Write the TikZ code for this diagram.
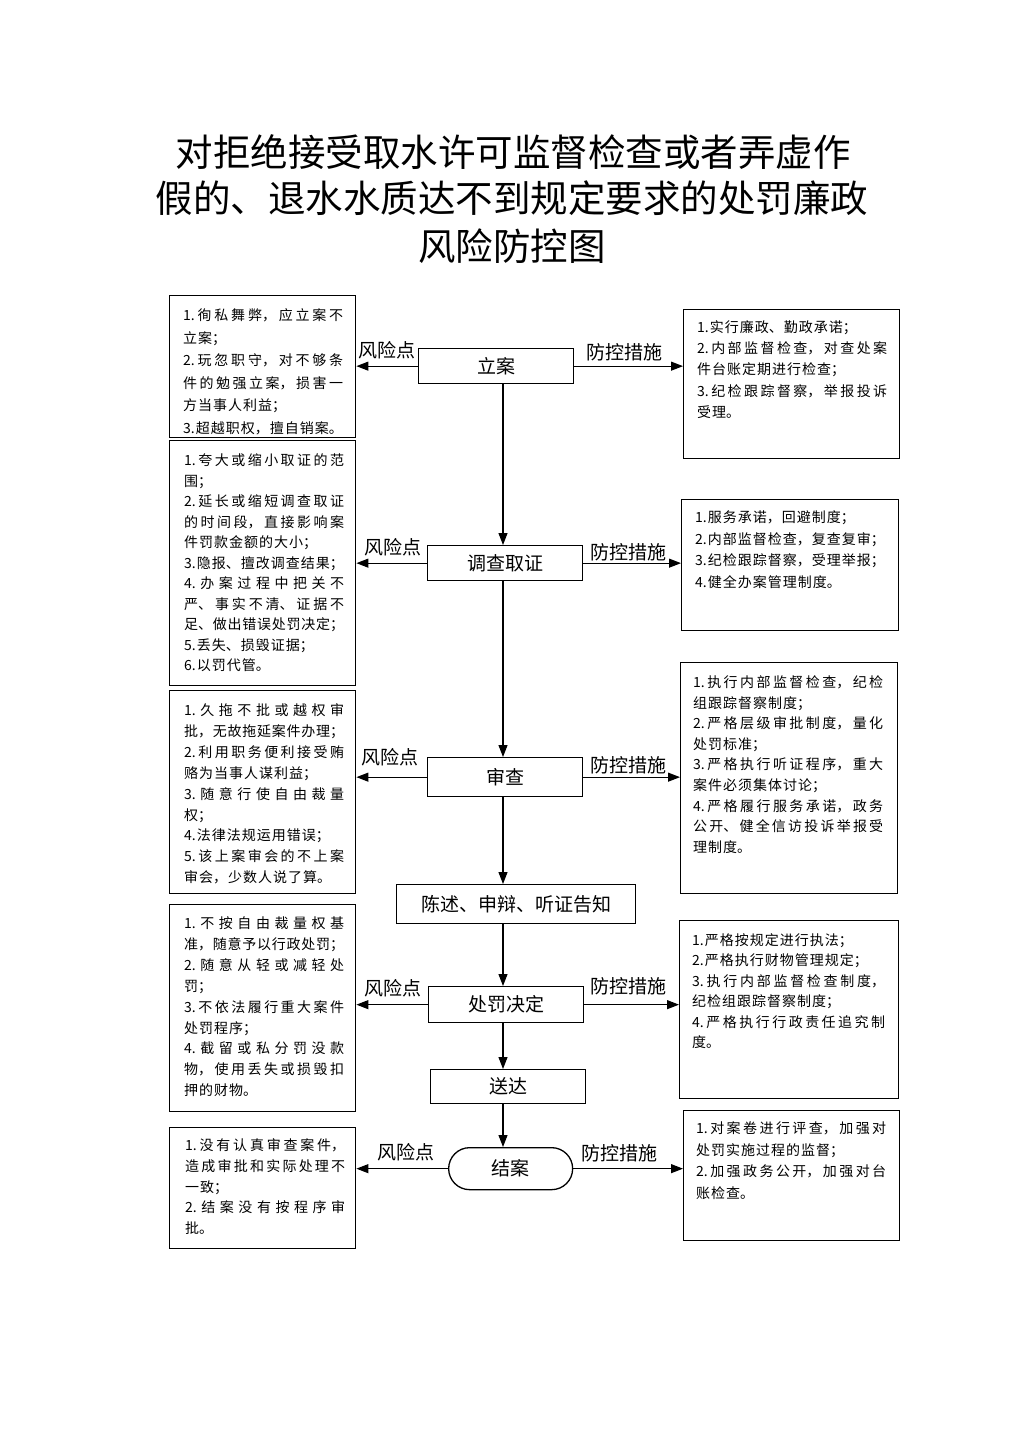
\documentclass[tikz,border=0pt]{standalone}
\usepackage{fontspec}
\newfontfamily\cjk{Noto Sans CJK SC}
\usetikzlibrary{arrows.meta}
\XeTeXlinebreaklocale "zh"
\XeTeXlinebreakskip=1pt plus 4pt minus 1pt
\setlength{\parindent}{0pt}
\hbadness=10000
\hfuzz=3pt
\begin{document}
\begin{tikzpicture}[x=1pt,y=-1pt,
  bx/.style={draw, line width=1.4pt, inner sep=0pt, anchor=north west},
  cb/.style={draw, line width=1.3pt, inner sep=0pt, anchor=north west, font=\cjk\fontsize{19}{22}\selectfont},
  lab/.style={inner sep=0pt, font=\cjk\fontsize{19}{22}\selectfont},
  titlef/.style={inner sep=0pt, font=\cjk\fontsize{37.5}{44}\selectfont},
  arr/.style={line width=1.1pt, -{Triangle[length=12pt,width=9pt]}},
  tx/.style={anchor=north west, inner sep=0pt, align=justify, text width=#1}
]
\useasboundingbox (0,0) rectangle (1024,1449);
\fill[white] (0,0) rectangle (1024,1449);

% title
\node[titlef] (ti1) at (513,152) {对拒绝接受取水许可监督检查或者弄虚作};
\node[titlef] (ti2) at (512,198) {假的、退水水质达不到规定要求的处罚廉政};
\node[titlef] (ti3) at (512,246) {风险防控图};

% central process boxes
\node[cb, minimum width=155, minimum height=35] (c1) at (418,348) {立案};
\node[cb, minimum width=155, minimum height=35] (c2) at (427,545) {调查取证};
\node[cb, minimum width=155, minimum height=39] (c3) at (427,757) {审查};
\node[cb, minimum width=239, minimum height=39] (c4) at (396,884) {陈述、申辩、听证告知};
\node[cb, minimum width=155, minimum height=36] (c5) at (428,986) {处罚决定};
\node[cb, minimum width=155, minimum height=34] (c6) at (430,1069) {送达};
\node[cb, minimum width=124, minimum height=42, rounded corners=21pt] (c7) at (448,1147) {结案};

% left boxes
\node[bx, minimum width=186, minimum height=142] (l1) at (169,295) {};
\node[bx, minimum width=186, minimum height=245] (l2) at (169,440) {};
\node[bx, minimum width=186, minimum height=203] (l3) at (169,690) {};
\node[bx, minimum width=186, minimum height=207] (l4) at (169,904) {};
\node[bx, minimum width=186, minimum height=121] (l5) at (169,1127) {};

% right boxes
\node[bx, minimum width=216, minimum height=149] (r1) at (683,309) {};
\node[bx, minimum width=217, minimum height=131] (r2) at (681,499) {};
\node[bx, minimum width=217, minimum height=231] (r3) at (680,662) {};
\node[bx, minimum width=219, minimum height=178] (r4) at (679,920) {};
\node[bx, minimum width=216, minimum height=130] (r5) at (683,1110) {};

% left texts
\node[tx=160, font=\cjk\fontsize{14}{22.6}\selectfont] (lt1) at (183,308.5) {1.徇私舞弊，应立案不\linebreak 立案；\par 2.玩忽职守，对不够条\linebreak 件的勉强立案，损害一\linebreak 方当事人利益；\par 3.超越职权，擅自销案。};
\node[tx=160, font=\cjk\fontsize{14}{20.5}\selectfont] (lt2) at (184,453.5) {1.夸大或缩小取证的范\linebreak 围；\par 2.延长或缩短调查取证\linebreak 的时间段，直接影响案\linebreak 件罚款金额的大小；\par 3.隐报、擅改调查结果；\par 4.办案过程中把关不\linebreak 严、事实不清、证据不\linebreak 足、做出错误处罚决定；\par 5.丢失、损毁证据；\par 6.以罚代管。};
\node[tx=160, font=\cjk\fontsize{14}{20.9}\selectfont] (lt3) at (184,703.5) {1.久拖不批或越权审\linebreak 批，无故拖延案件办理；\par 2.利用职务便利接受贿\linebreak 赂为当事人谋利益；\par 3.随意行使自由裁量\linebreak 权；\par 4.法律法规运用错误；\par 5.该上案审会的不上案\linebreak 审会，少数人说了算。};
\node[tx=160, font=\cjk\fontsize{14}{20.9}\selectfont] (lt4) at (184,916.5) {1.不按自由裁量权基\linebreak 准，随意予以行政处罚；\par 2.随意从轻或减轻处\linebreak 罚；\par 3.不依法履行重大案件\linebreak 处罚程序；\par 4.截留或私分罚没款\linebreak 物，使用丢失或损毁扣\linebreak 押的财物。};
\node[tx=160, font=\cjk\fontsize{14}{20.8}\selectfont] (lt5) at (185,1138.5) {1.没有认真审查案件，\linebreak 造成审批和实际处理不\linebreak 一致；\par 2.结案没有按程序审\linebreak 批。};

% right texts
\node[tx=190, font=\cjk\fontsize{14}{21.2}\selectfont] (rt1) at (697,320.5) {1.实行廉政、勤政承诺；\par 2.内部监督检查，对查处案\linebreak 件台账定期进行检查；\par 3.纪检跟踪督察，举报投诉\linebreak 受理。};
\node[tx=190, font=\cjk\fontsize{14}{21.7}\selectfont] (rt2) at (695,510.5) {1.服务承诺，回避制度；\par 2.内部监督检查，复查复审；\par 3.纪检跟踪督察，受理举报；\par 4.健全办案管理制度。};
\node[tx=190, font=\cjk\fontsize{14}{20.6}\selectfont] (rt3) at (693,675.5) {1.执行内部监督检查，纪检\linebreak 组跟踪督察制度；\par 2.严格层级审批制度，量化\linebreak 处罚标准；\par 3.严格执行听证程序，重大\linebreak 案件必须集体讨论；\par 4.严格履行服务承诺，政务\linebreak 公开、健全信访投诉举报受\linebreak 理制度。};
\node[tx=193, font=\cjk\fontsize{14}{20.4}\selectfont] (rt4) at (692,933.5) {1.严格按规定进行执法；\par 2.严格执行财物管理规定；\par 3.执行内部监督检查制度，\linebreak 纪检组跟踪督察制度；\par 4.严格执行行政责任追究制\linebreak 度。};
\node[tx=190, font=\cjk\fontsize{14}{21.7}\selectfont] (rt5) at (696,1121.5) {1.对案卷进行评查，加强对\linebreak 处罚实施过程的监督；\par 2.加强政务公开，加强对台\linebreak 账检查。};

% labels
\node[lab] (rk1) at (387,350) {风险点};
\node[lab] (pk1) at (624,352) {防控措施};
\node[lab] (rk2) at (393,547) {风险点};
\node[lab] (pk2) at (628,552) {防控措施};
\node[lab] (rk3) at (390,757) {风险点};
\node[lab] (pk3) at (628,765) {防控措施};
\node[lab] (rk4) at (393,988) {风险点};
\node[lab] (pk4) at (628,986) {防控措施};
\node[lab] (rk5) at (406,1152) {风险点};
\node[lab] (pk5) at (619,1153) {防控措施};

% side arrows
\draw[arr] (c1.west) -- (c1.west -| l1.east);
\draw[arr] (c1.east) -- (c1.east -| r1.west);
\draw[arr] (c2.west) -- (c2.west -| l2.east);
\draw[arr] (c2.east) -- (c2.east -| r2.west);
\draw[arr] (c3.west) -- (c3.west -| l3.east);
\draw[arr] (c3.east) -- (c3.east -| r3.west);
\draw[arr] (c5.west) -- (c5.west -| l4.east);
\draw[arr] (c5.east) -- (c5.east -| r4.west);
\draw[arr] (c7.west) -- (c7.west -| l5.east);
\draw[arr] (c7.east) -- (c7.east -| r5.west);

% spine arrows
\coordinate (sp) at (503,0);
\draw[arr] (c1.south -| sp) -- (c2.north -| sp);
\draw[arr] (c2.south -| sp) -- (c3.north -| sp);
\draw[arr] (c3.south -| sp) -- (c4.north -| sp);
\draw[arr] (c4.south -| sp) -- (c5.north -| sp);
\draw[arr] (c5.south -| sp) -- (c6.north -| sp);
\draw[arr] (c6.south -| sp) -- (c7.north -| sp);
\end{tikzpicture}
\end{document}
